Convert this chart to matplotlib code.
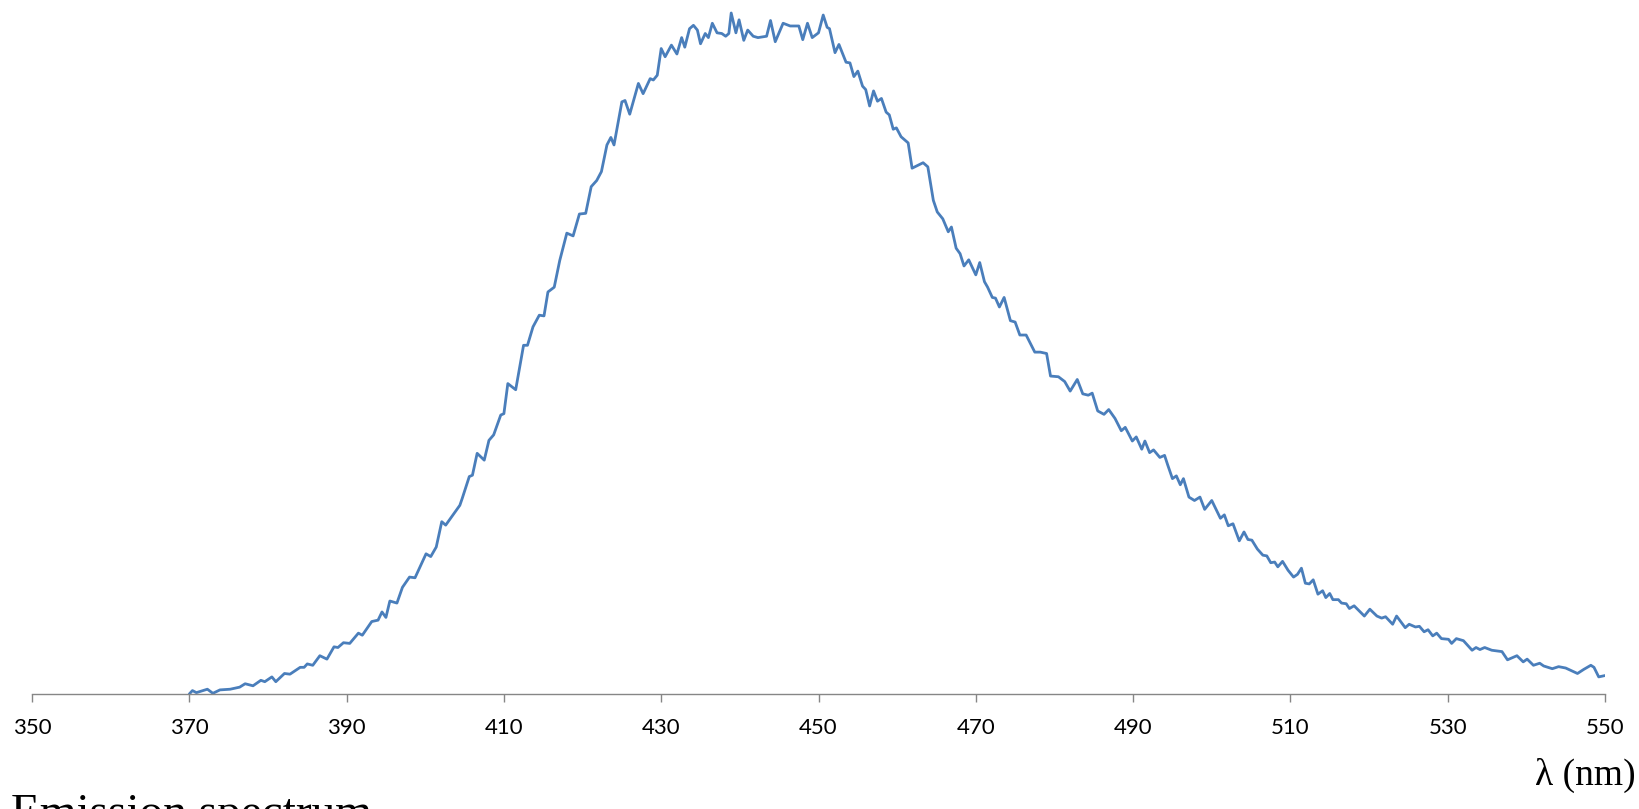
import matplotlib.pyplot as plt

# 发射光谱数据 (读图估计, 强度为任意单位)
wavelength = [
    370.0, 370.4, 370.9, 372.3, 373.0, 373.9, 375.2, 376.4, 377.1, 378.1,
    379.1, 379.6, 380.5, 381.0, 382.1, 382.8, 384.1, 384.6, 385.0, 385.7,
    386.6, 387.5, 388.4, 388.9, 389.6, 390.4, 391.5, 392.0, 393.2, 394.0,
    394.5, 395.0, 395.5, 396.4, 397.1, 398.0, 398.7, 400.1, 400.7, 401.4,
    402.1, 402.6, 404.4, 404.7, 405.6, 406.0, 406.6, 407.5, 408.1, 408.7,
    409.6, 410.0, 410.5, 411.5, 412.5, 413.0, 413.7, 414.5, 415.1, 415.6,
    416.4, 417.1, 418.0, 418.8, 419.6, 420.4, 421.1, 421.8, 422.4, 423.1,
    423.6, 424.0, 425.0, 425.4, 426.0, 427.1, 427.7, 428.6, 429.0, 429.5,
    430.0, 430.5, 431.3, 432.0, 432.6, 433.0, 433.6, 434.1, 434.6, 435.0,
    435.6, 436.0, 436.5, 437.1, 437.7, 438.2, 438.6, 438.9, 439.5, 439.9,
    440.5, 441.0, 441.7, 442.3, 443.4, 443.9, 444.5, 445.5, 446.4, 447.5,
    448.0, 448.6, 449.2, 450.0, 450.6, 451.1, 451.4, 452.1, 452.6, 453.5,
    454.0, 454.5, 455.0, 455.6, 456.0, 456.5, 457.0, 457.5, 458.0, 458.6,
    459.0, 459.5, 459.9, 460.5, 461.4, 461.9, 463.3, 463.9, 464.6, 465.1,
    465.8, 466.5, 466.9, 467.5, 468.0, 468.5, 469.1, 470.0, 470.5, 471.1,
    471.5, 472.1, 472.5, 473.0, 473.6, 474.4, 475.0, 475.6, 476.4, 477.5,
    478.2, 479.0, 479.5, 480.5, 481.3, 482.0, 482.9, 483.6, 484.3, 484.8,
    485.5, 486.3, 486.9, 487.7, 488.5, 489.0, 489.9, 490.4, 491.1, 491.5,
    492.1, 492.6, 493.4, 494.0, 494.4, 495.0, 495.5, 496.0, 496.4, 497.1,
    497.8, 498.5, 499.1, 500.0, 500.6, 501.1, 501.6, 502.1, 502.7, 503.5,
    504.1, 504.6, 505.1, 505.8, 506.5, 507.0, 507.5, 508.0, 508.4, 509.0,
    509.7, 510.4, 510.9, 511.4, 511.9, 512.4, 512.9, 513.5, 514.1, 514.5,
    515.0, 515.4, 516.1, 516.5, 517.1, 517.5, 518.1, 519.4, 520.1, 521.0,
    521.6, 522.1, 523.0, 523.5, 524.6, 525.1, 525.9, 526.4, 527.0, 527.5,
    528.1, 528.6, 529.2, 530.1, 530.5, 531.1, 532.0, 533.1, 533.6, 534.1,
    534.7, 535.6, 536.9, 537.6, 538.8, 539.6, 540.1, 540.9, 541.7, 542.2,
    543.3, 544.1, 545.0, 546.5, 547.3, 548.2, 548.6, 549.2, 550.0,
]
intensity = [
    0, 5, 2, 7, 1, 6, 7, 10, 15, 12,
    20, 18, 25, 18, 30, 29, 39, 39, 44, 42,
    56, 51, 69, 68, 75, 74, 89, 86, 106, 108,
    120, 112, 136, 133, 156, 171, 170, 205, 201, 215,
    252, 247, 276, 286, 318, 320, 352, 342, 371, 379,
    408, 410, 454, 445, 510, 510, 537, 554, 553, 588,
    595, 634, 674, 670, 702, 703, 742, 751, 764, 803,
    814, 803, 866, 868, 848, 893, 878, 900, 898, 905,
    944, 932, 949, 936, 960, 946, 973, 978, 971, 951,
    966, 960, 981, 967, 966, 962, 966, 996, 967, 986,
    956, 971, 962, 960, 962, 985, 954, 981, 977, 977,
    957, 981, 960, 967, 993, 975, 973, 938, 950, 924,
    923, 903, 911, 889, 884, 860, 882, 867, 871, 851,
    847, 826, 828, 815, 806, 769, 777, 771, 722, 705,
    695, 676, 683, 652, 644, 626, 635, 613, 631, 603,
    595, 580, 579, 566, 580, 546, 544, 525, 525, 500,
    500, 498, 465, 464, 457, 443, 460, 439, 437, 440,
    414, 409, 416, 403, 385, 390, 370, 376, 358, 370,
    353, 357, 346, 349, 335, 315, 319, 306, 315, 288,
    283, 288, 270, 283, 269, 257, 262, 246, 249, 224,
    237, 226, 225, 212, 203, 202, 192, 193, 186, 194,
    181, 171, 175, 184, 162, 161, 167, 146, 151, 141,
    147, 138, 138, 133, 132, 125, 129, 114, 124, 114,
    111, 113, 102, 114, 97, 102, 98, 99, 91, 94,
    85, 89, 81, 80, 74, 81, 78, 64, 68, 65,
    68, 64, 62, 50, 56, 47, 51, 42, 45, 41,
    37, 40, 38, 30, 36, 42, 39, 25, 27,
]
x_ticks = [350, 370, 390, 410, 430, 450, 470, 490, 510, 530, 550]

fig = plt.figure(figsize=(16.39, 8.09), dpi=100)
ax = fig.add_axes([0.01952, 0.14215, 0.95974, 0.85785])

ax.plot(wavelength, intensity, color='#4a7ebb', linewidth=2.0,
        solid_joinstyle='round', solid_capstyle='round')

ax.set_xlim(350, 550)
ax.set_ylim(0, 1015)

# 只保留底部坐标轴
for side in ['left', 'right', 'top']:
    ax.spines[side].set_visible(False)
ax.spines['bottom'].set_color('#868686')
ax.spines['bottom'].set_linewidth(1.0)
ax.set_yticks([])

ax.set_xticks(x_ticks)
ax.set_xticklabels([str(t) for t in x_ticks], fontfamily='Lato', fontsize=16)
ax.tick_params(axis='x', direction='out', length=6, width=1.0, color='#868686', pad=11)

fig.text(0.998, 0.0297, 'λ (nm)', ha='right', va='baseline',
         fontfamily='Liberation Serif', fontsize=27)
# 参考图中此标题在底部被截断
fig.text(0.0067, -0.0215, 'Emission spectrum', ha='left', va='baseline',
         fontfamily='Liberation Serif', fontsize=34)

plt.savefig('out.png', dpi=100)
